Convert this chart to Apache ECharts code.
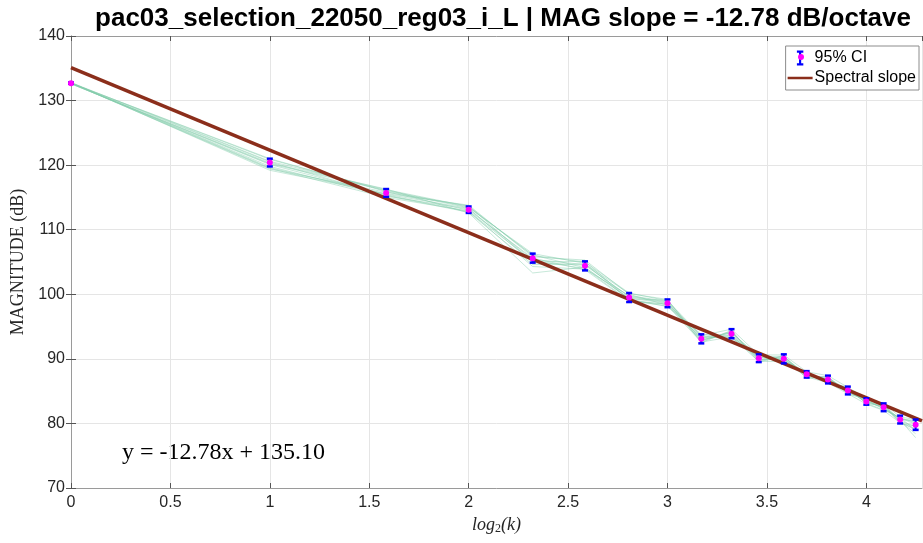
<!DOCTYPE html>
<html>
<head>
<meta charset="utf-8">
<script src="https://cdn.jsdelivr.net/npm/echarts@6/dist/echarts.min.js"></script>
<style>html,body{margin:0;padding:0;background:#fff}#c{width:923px;height:543px}</style>
</head>
<body>
<div id="c"></div>
<script>
// log2(k) positions, k = 1..19
const xVals = [0, 1, 1.585, 2, 2.322, 2.585, 2.807, 3, 3.170, 3.322, 3.459, 3.585, 3.700, 3.807, 3.907, 4, 4.087, 4.170, 4.248];
// mean magnitude (dB)
const meanVals = [132.7, 120.4, 115.7, 113.1, 105.6, 104.4, 99.5, 98.6, 93.1, 93.9, 90.1, 90.0, 87.6, 86.8, 85.1, 83.4, 82.5, 80.6, 79.8];
// 95% CI half width (dB)
const ciHalf = [0.1, 0.6, 0.6, 0.5, 0.7, 0.7, 0.7, 0.6, 0.7, 0.7, 0.6, 0.7, 0.5, 0.6, 0.6, 0.5, 0.6, 0.6, 0.8];
// individual traces
const trace1  = [132.8, 120.6, 116.2, 113.6, 106.0, 105.0, 100.2, 99.0, 93.6, 94.6, 90.6, 90.6, 88.0, 87.4, 85.6, 83.9, 83.1, 81.0, 80.6];
const trace2  = [132.6, 120.1, 115.4, 112.8, 105.2, 104.0, 99.0, 98.2, 92.6, 93.4, 89.6, 89.6, 87.2, 86.3, 84.6, 83.0, 82.0, 80.1, 79.2];
const trace3  = [132.7, 119.5, 115.0, 112.9, 104.3, 103.9, 99.8, 98.9, 93.4, 93.2, 90.3, 89.5, 87.9, 86.5, 85.4, 83.1, 82.7, 80.3, 78.4];
const trace4  = [132.7, 120.9, 116.0, 113.4, 106.3, 104.8, 99.1, 98.4, 92.8, 94.3, 89.8, 90.4, 87.3, 87.2, 84.9, 83.7, 82.2, 80.9, 80.1];
const trace5  = [132.8, 119.2, 115.6, 113.8, 105.8, 105.3, 100.0, 98.3, 93.3, 94.0, 90.5, 90.2, 87.5, 86.9, 85.3, 83.2, 82.6, 80.4, 79.5];
const trace6  = [132.6, 120.3, 116.3, 112.6, 103.3, 104.2, 99.3, 99.1, 92.9, 94.1, 90.0, 89.8, 87.8, 86.6, 84.8, 83.6, 82.4, 80.8, 79.9];
const trace7  = [132.7, 119.8, 115.2, 113.2, 105.4, 104.6, 99.6, 98.7, 93.0, 93.7, 89.7, 90.1, 87.1, 87.0, 85.0, 83.3, 82.9, 80.5, 77.8];
const trace8  = [132.7, 121.0, 115.9, 113.0, 105.6, 103.8, 98.9, 98.5, 93.2, 93.8, 90.2, 90.3, 87.6, 86.4, 85.5, 83.5, 82.3, 80.7, 80.3];
const trace9  = [132.8, 119.6, 115.5, 113.3, 104.9, 104.5, 99.7, 98.8, 92.7, 94.2, 89.9, 90.0, 87.7, 86.8, 85.2, 83.4, 82.5, 80.2, 79.0];
const trace10 = [132.6, 120.2, 116.1, 113.5, 106.1, 104.1, 99.4, 98.6, 93.5, 93.5, 90.4, 89.9, 87.4, 87.1, 84.7, 83.8, 82.8, 80.6, 80.5];
const trace11 = [132.7, 119.4, 115.8, 113.7, 105.0, 105.1, 99.2, 98.1, 93.8, 93.3, 90.7, 89.7, 87.9, 86.2, 85.7, 83.1, 82.1, 80.9, 78.9];
const trace12 = [132.7, 120.5, 115.3, 112.7, 104.6, 104.7, 100.1, 99.2, 92.5, 94.4, 89.5, 90.5, 87.0, 87.3, 84.5, 83.9, 83.0, 80.0, 79.6];
const traces = [trace1, trace2, trace3, trace4, trace5, trace6, trace7, trace8, trace9, trace10, trace11, trace12];
// fitted spectral slope line endpoints
const slopeX = [0, 4.28];
const slopeY = [135.10, 80.40];
const xTicks = [0, 0.5, 1, 1.5, 2, 2.5, 3, 3.5, 4];
const yTicks = [70, 80, 90, 100, 110, 120, 130, 140];

const chart = echarts.init(document.getElementById('c'), null, {renderer: 'canvas'});
const sans = 'Liberation Sans, Arial, Helvetica, sans-serif';
const serif = 'Liberation Serif, Times New Roman, serif';
const ax = '#262626';

const series = [];
traces.forEach((t, i) => {
  series.push({
    type: 'line', name: 'trace' + (i + 1), silent: true, symbol: 'none', z: 1,
    data: xVals.map((x, j) => [x, t[j]]),
    lineStyle: {color: 'rgba(130,205,170,0.5)', width: 0.9}
  });
});
series.push({
  type: 'line', name: 'Spectral slope', symbol: 'none', z: 3,
  data: slopeX.map((x, i) => [x, slopeY[i]]),
  lineStyle: {color: '#8B2E1B', width: 3.5},
  itemStyle: {color: '#8B2E1B'}
});
series.push({
  type: 'custom', name: '95% CI', z: 5,
  itemStyle: {color: '#0000FF'},
  data: xVals.map((x, j) => [x, meanVals[j] - ciHalf[j], meanVals[j] + ciHalf[j]]),
  renderItem: function (params, api) {
    const lo = api.coord([api.value(0), api.value(1)]);
    const hi = api.coord([api.value(0), api.value(2)]);
    const w = 3;
    return {
      type: 'group',
      children: [
        {type: 'line', shape: {x1: lo[0], y1: lo[1], x2: hi[0], y2: hi[1]}, style: {stroke: '#0000FF', lineWidth: 2}},
        {type: 'line', shape: {x1: lo[0] - w, y1: lo[1], x2: lo[0] + w, y2: lo[1]}, style: {stroke: '#0000FF', lineWidth: 2.5}},
        {type: 'line', shape: {x1: hi[0] - w, y1: hi[1], x2: hi[0] + w, y2: hi[1]}, style: {stroke: '#0000FF', lineWidth: 2.5}}
      ]
    };
  }
});
series.push({
  type: 'scatter', name: 'mean', z: 6, symbol: 'circle', symbolSize: 6,
  data: xVals.map((x, j) => [x, meanVals[j]]),
  itemStyle: {color: '#FF00FF', opacity: 1}
});

const option = {
  backgroundColor: '#ffffff',
  animation: false,
  title: {
    text: 'pac03_selection_22050_reg03_i_L | MAG slope = -12.78 dB/octave',
    left: 498, top: 1, textAlign: 'center',
    textStyle: {fontFamily: sans, fontWeight: 'bold', fontSize: 26, color: '#000'}
  },
  legend: {
    right: 4, top: 46, orient: 'vertical',
    data: [
      {name: '95% CI', icon: 'path://M2,0 H8 V2 H6 V12 H8 V14 H2 V12 H4 V2 H2 Z'},
      {name: 'Spectral slope', icon: 'path://M0,0 H30 V3 H0 Z'}
    ],
    itemWidth: 25, itemHeight: 15, itemGap: 4,
    borderColor: '#8c8c8c', borderWidth: 1, borderRadius: 0,
    padding: [4, 3, 4, 2],
    backgroundColor: '#fff',
    textStyle: {fontFamily: sans, fontSize: 16, color: '#000', padding: [0, 0, 0, -3]}
  },
  grid: {left: 71, top: 36, right: 1, bottom: 55, containLabel: false},
  xAxis: [{
    type: 'value', min: 0, max: 4.28, interval: 0.5,
    name: '{i|log}{s|2}{i|(k)}', nameLocation: 'middle', nameGap: 24,
    nameTextStyle: {rich: {
      i: {fontFamily: serif, fontStyle: 'italic', fontSize: 18, color: ax},
      s: {fontFamily: serif, fontSize: 12, color: ax, verticalAlign: 'bottom', padding: [8, 0, 0, 0]}
    }},
    axisLine: {show: true, onZero: false, lineStyle: {color: '#9a9a9a', width: 1}},
    axisTick: {show: true, inside: true, length: 5, lineStyle: {color: '#555'}},
    axisLabel: {showMaxLabel: false, fontFamily: sans, fontSize: 16, color: ax, margin: 7},
    splitLine: {show: true, lineStyle: {color: '#e5e5e5', width: 1}}
  }, {
    type: 'value', min: 0, max: 4.28, interval: 0.5, position: 'top',
    axisLine: {show: true, lineStyle: {color: '#9a9a9a', width: 1}},
    axisTick: {show: true, inside: true, length: 5, lineStyle: {color: '#555'}},
    axisLabel: {show: false}, splitLine: {show: false}
  }],
  yAxis: [{
    type: 'value', min: 70, max: 140, interval: 10,
    name: 'MAGNITUDE (dB)', nameLocation: 'middle', nameGap: 40,
    nameTextStyle: {fontFamily: serif, fontSize: 18, color: ax},
    axisLine: {show: true, onZero: false, lineStyle: {color: '#9a9a9a', width: 1}},
    axisTick: {show: true, inside: true, length: 5, lineStyle: {color: '#555'}},
    axisLabel: {fontFamily: sans, fontSize: 16, color: ax, margin: 6},
    splitLine: {show: true, lineStyle: {color: '#e5e5e5', width: 1}}
  }, {
    type: 'value', min: 70, max: 140, interval: 10, position: 'right',
    axisLine: {show: true, lineStyle: {color: '#9a9a9a', width: 1}},
    axisTick: {show: true, inside: true, length: 5, lineStyle: {color: '#555'}},
    axisLabel: {show: false}, splitLine: {show: false}
  }],
  graphic: [
    {type: 'text', left: 122, top: 441,
     style: {text: 'y = -12.78x + 135.10', font: '24px ' + serif, fill: '#000'}},
    {type: 'circle', z: 100, shape: {cx: 801, cy: 57, r: 3}, style: {fill: '#FF00FF'}}
  ],
  series: series
};
chart.setOption(option);
</script>
</body>
</html>
